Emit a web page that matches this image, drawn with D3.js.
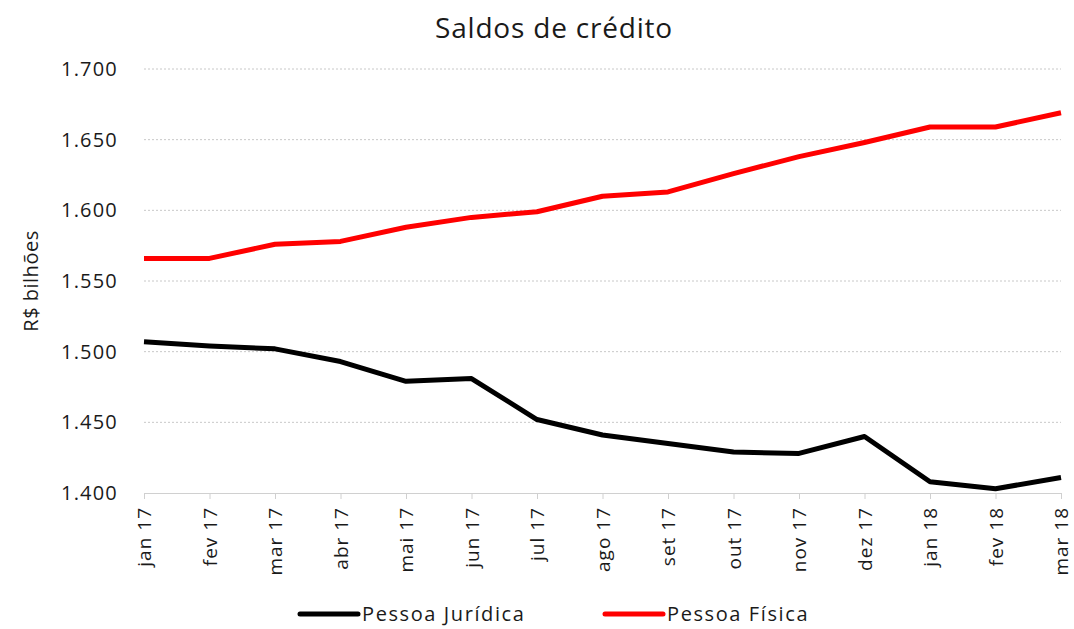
<!DOCTYPE html>
<html>
<head>
<meta charset="utf-8">
<script src="https://cdn.jsdelivr.net/npm/d3@7"></script>
<style>
  body { margin: 0; background: #fff; }
  text { font-family: "Open Sans", "Noto Sans", sans-serif; fill: #1a1a1a; }
</style>
</head>
<body>
<svg id="chart"></svg>
<script>
// dados
const meses = ["jan 17", "fev 17", "mar 17", "abr 17", "mai 17", "jun 17", "jul 17",
  "ago 17", "set 17", "out 17", "nov 17", "dez 17", "jan 18", "fev 18", "mar 18"];
const pessoaJuridica = [1507, 1504, 1502, 1493, 1479, 1481, 1452, 1441, 1435, 1429, 1428, 1440, 1408, 1403, 1411];
const pessoaFisica = [1566, 1566, 1576, 1578, 1588, 1595, 1599, 1610, 1613, 1626, 1638, 1648, 1659, 1659, 1669];
const yTicks = [1400, 1450, 1500, 1550, 1600, 1650, 1700];

const width = 1074, height = 629;
const margin = { top: 69, right: 13, bottom: 136, left: 144 };

const svg = d3.select('#chart')
  .attr('width', width)
  .attr('height', height);

const x = d3.scalePoint()
  .domain(meses)
  .range([margin.left, width - margin.right]);

const y = d3.scaleLinear()
  .domain([1400, 1700])
  .range([height - margin.bottom, margin.top]);

const fmt = v => d3.format(',.0f')(v).replace(',', '.');

// título
svg.append('text')
  .attr('x', 554).attr('y', 38)
  .attr('text-anchor', 'middle')
  .style('font-size', '28px')
  .style('letter-spacing', '0.8px')
  .text('Saldos de crédito');

// grade
svg.append('g')
  .selectAll('line')
  .data(yTicks.slice(1))
  .enter().append('line')
  .attr('x1', margin.left).attr('x2', width - margin.right)
  .attr('y1', d => y(d)).attr('y2', d => y(d))
  .style('stroke', '#c8c8c8')
  .style('stroke-width', 1)
  .style('stroke-dasharray', '2,2');

// eixo y
const yAxis = svg.append('g')
  .attr('transform', `translate(${margin.left},0)`)
  .call(d3.axisLeft(y).tickValues(yTicks).tickFormat(fmt).tickSize(0).tickPadding(26));
yAxis.select('.domain').remove();
yAxis.selectAll('text')
  .style('font-size', '20px')
  .style('letter-spacing', '1.2px')
  .style('fill', '#1a1a1a');

svg.append('text')
  .attr('transform', `translate(38,${(margin.top + height - margin.bottom) / 2}) rotate(-90)`)
  .attr('text-anchor', 'middle')
  .style('font-size', '20px')
  .style('letter-spacing', '0.5px')
  .text('R$ bilhões');

// eixo x
const xAxis = svg.append('g')
  .attr('transform', `translate(0,${height - margin.bottom})`)
  .call(d3.axisBottom(x).tickSizeOuter(0).tickSize(6).tickPadding(8));
xAxis.select('.domain').style('stroke', '#d0d0d0');
xAxis.selectAll('.tick line').style('stroke', '#d0d0d0');
xAxis.selectAll('text')
  .style('font-size', '19px')
  .style('fill', '#1a1a1a')
  .style('letter-spacing', '1px')
  .attr('transform', 'rotate(-90)')
  .attr('text-anchor', 'end')
  .attr('x', -14)
  .attr('y', 0)
  .attr('dy', '0.35em');

// linhas
const line = d3.line()
  .x((d, i) => x(meses[i]))
  .y(d => y(d));

const series = [
  { nome: 'Pessoa Jurídica', valores: pessoaJuridica, cor: '#000000' },
  { nome: 'Pessoa Física', valores: pessoaFisica, cor: '#ff0000' }
];

svg.selectAll('path.serie')
  .data(series)
  .enter().append('path')
  .attr('class', 'serie')
  .attr('d', d => line(d.valores))
  .style('fill', 'none')
  .style('stroke', d => d.cor)
  .style('stroke-width', 5)
  .style('stroke-linejoin', 'round');

// legenda
const legX = [300, 605];
const leg = svg.selectAll('g.leg')
  .data(series)
  .enter().append('g')
  .attr('class', 'leg')
  .attr('transform', (d, i) => `translate(${legX[i]},614)`);
leg.append('line')
  .attr('x1', 0).attr('x2', 58)
  .style('stroke', d => d.cor)
  .style('stroke-width', 5)
  .style('stroke-linecap', 'round');
leg.append('text')
  .attr('x', 62).attr('dy', '0.35em')
  .style('font-size', '20px')
  .style('letter-spacing', '1.6px')
  .text(d => d.nome);
</script>
</body>
</html>
